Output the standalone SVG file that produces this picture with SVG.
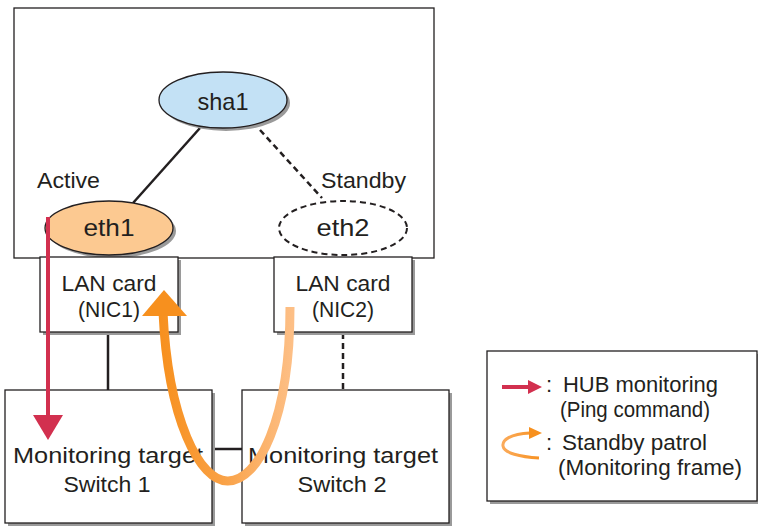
<svg xmlns="http://www.w3.org/2000/svg" width="758" height="528" viewBox="0 0 758 528">
<style>
text{font-family:"Liberation Sans",Arial,sans-serif;font-size:22px;fill:#231f20}
text.big{font-size:24px}
.box{fill:#fff;stroke:#231f20;stroke-width:1.3}
.sh{fill:#9a9a9a}
.ln{stroke:#231f20;stroke-width:2.5;fill:none}
.dash{stroke:#231f20;stroke-width:2.5;fill:none;stroke-dasharray:6 4}
.c{text-anchor:middle}
</style>
<defs>
<linearGradient id="og" gradientUnits="userSpaceOnUse" x1="160" y1="0" x2="292" y2="0">
<stop offset="0" stop-color="#f7901e"/><stop offset="0.45" stop-color="#f9a043"/><stop offset="1" stop-color="#fdbf86"/>
</linearGradient>
<linearGradient id="og2" gradientUnits="userSpaceOnUse" x1="500" y1="0" x2="542" y2="0">
<stop offset="0" stop-color="#fbac5e"/><stop offset="1" stop-color="#f7901e"/>
</linearGradient>
</defs>

<g id="host">
<rect class="box" x="14" y="8" width="420" height="250"/>
</g>

<g id="connectors">
<line class="ln" x1="200" y1="128" x2="133" y2="203"/>
<line class="dash" x1="260" y1="130" x2="322" y2="198"/>
<line class="ln" x1="108" y1="333" x2="108" y2="390"/>
<line class="dash" x1="343" y1="333" x2="343" y2="390"/>
<line class="ln" x1="212" y1="449" x2="242" y2="449"/>
</g>

<g id="sha1">
<ellipse class="sh" cx="226" cy="103" rx="64" ry="28"/>
<ellipse cx="223" cy="100" rx="64" ry="28" fill="#c3e1f5" stroke="#231f20" stroke-width="1.3"/>
<text class="c big" x="223" y="110" textLength="51" lengthAdjust="spacingAndGlyphs">sha1</text>
</g>

<g id="eth1">
<ellipse class="sh" cx="112" cy="231" rx="64" ry="27"/>
<ellipse cx="109" cy="228" rx="64" ry="27" fill="#fcc991" stroke="#231f20" stroke-width="1.3"/>
<text class="c big" x="109" y="236" textLength="51" lengthAdjust="spacingAndGlyphs">eth1</text>
<text x="37" y="188" textLength="63" lengthAdjust="spacingAndGlyphs">Active</text>
</g>

<g id="eth2">
<ellipse cx="343" cy="228" rx="64" ry="27" fill="#fff" stroke="#231f20" stroke-width="2" stroke-dasharray="6 4"/>
<text class="c big" x="343" y="236" textLength="53" lengthAdjust="spacingAndGlyphs">eth2</text>
<text x="321" y="188" textLength="85" lengthAdjust="spacingAndGlyphs">Standby</text>
</g>

<g id="nic1">
<rect class="sh" x="43" y="260" width="138" height="75"/>
<rect class="box" x="40" y="257" width="138" height="75"/>
<text class="c" x="109" y="291" textLength="95" lengthAdjust="spacingAndGlyphs">LAN card</text>
<text class="c" x="109" y="317" textLength="62" lengthAdjust="spacingAndGlyphs">(NIC1)</text>
</g>

<g id="nic2">
<rect class="sh" x="277" y="260" width="138" height="75"/>
<rect class="box" x="274" y="257" width="138" height="75"/>
<text class="c" x="343" y="291" textLength="95" lengthAdjust="spacingAndGlyphs">LAN card</text>
<text class="c" x="343" y="317" textLength="62" lengthAdjust="spacingAndGlyphs">(NIC2)</text>
</g>

<g id="switch1">
<rect class="sh" x="8" y="393" width="207" height="133"/>
<rect class="box" x="5" y="390" width="207" height="133"/>
<text class="c" x="108" y="463" textLength="190" lengthAdjust="spacingAndGlyphs">Monitoring target</text>
<text class="c" x="107" y="492" textLength="87" lengthAdjust="spacingAndGlyphs">Switch 1</text>
</g>

<g id="switch2">
<rect class="sh" x="245" y="393" width="207" height="133"/>
<rect class="box" x="242" y="390" width="207" height="133"/>
<text class="c" x="343" y="463" textLength="190" lengthAdjust="spacingAndGlyphs">Monitoring target</text>
<text class="c" x="342" y="492" textLength="89" lengthAdjust="spacingAndGlyphs">Switch 2</text>
</g>

<g id="arrows">
<line x1="48" y1="217" x2="48" y2="418" stroke="#d2304f" stroke-width="4"/>
<polygon points="33,415 63,415 48,440" fill="#d2304f"/>
<path d="M 290 307 C 290 420, 258 481, 228 481 C 200 482, 168 420, 163 312" fill="none" stroke="url(#og)" stroke-width="9"/>
<polygon points="164,290 142,316 187,316" fill="#f7901e"/>
</g>

<g id="legend">
<rect class="sh" x="490" y="354" width="270" height="150"/>
<rect class="box" x="487" y="351" width="270" height="150"/>
<line x1="502" y1="387" x2="530" y2="387" stroke="#d2304f" stroke-width="4"/>
<polygon points="528,380 542,387 528,394" fill="#d2304f"/>
<text x="546" y="392">:</text>
<text x="563" y="392" textLength="155" lengthAdjust="spacingAndGlyphs">HUB monitoring</text>
<text x="560" y="417" textLength="150" lengthAdjust="spacingAndGlyphs">(Ping command)</text>
<path d="M 530 433 C 510 434, 502 440, 503 446 C 504 453, 520 457, 539 458" fill="none" stroke="url(#og2)" stroke-width="3"/>
<polygon points="529,427 542,433 529,439" fill="#f7901e"/>
<text x="546" y="450">:</text>
<text x="562" y="450" textLength="145" lengthAdjust="spacingAndGlyphs">Standby patrol</text>
<text x="558" y="475" textLength="184" lengthAdjust="spacingAndGlyphs">(Monitoring frame)</text>
</g>
</svg>
